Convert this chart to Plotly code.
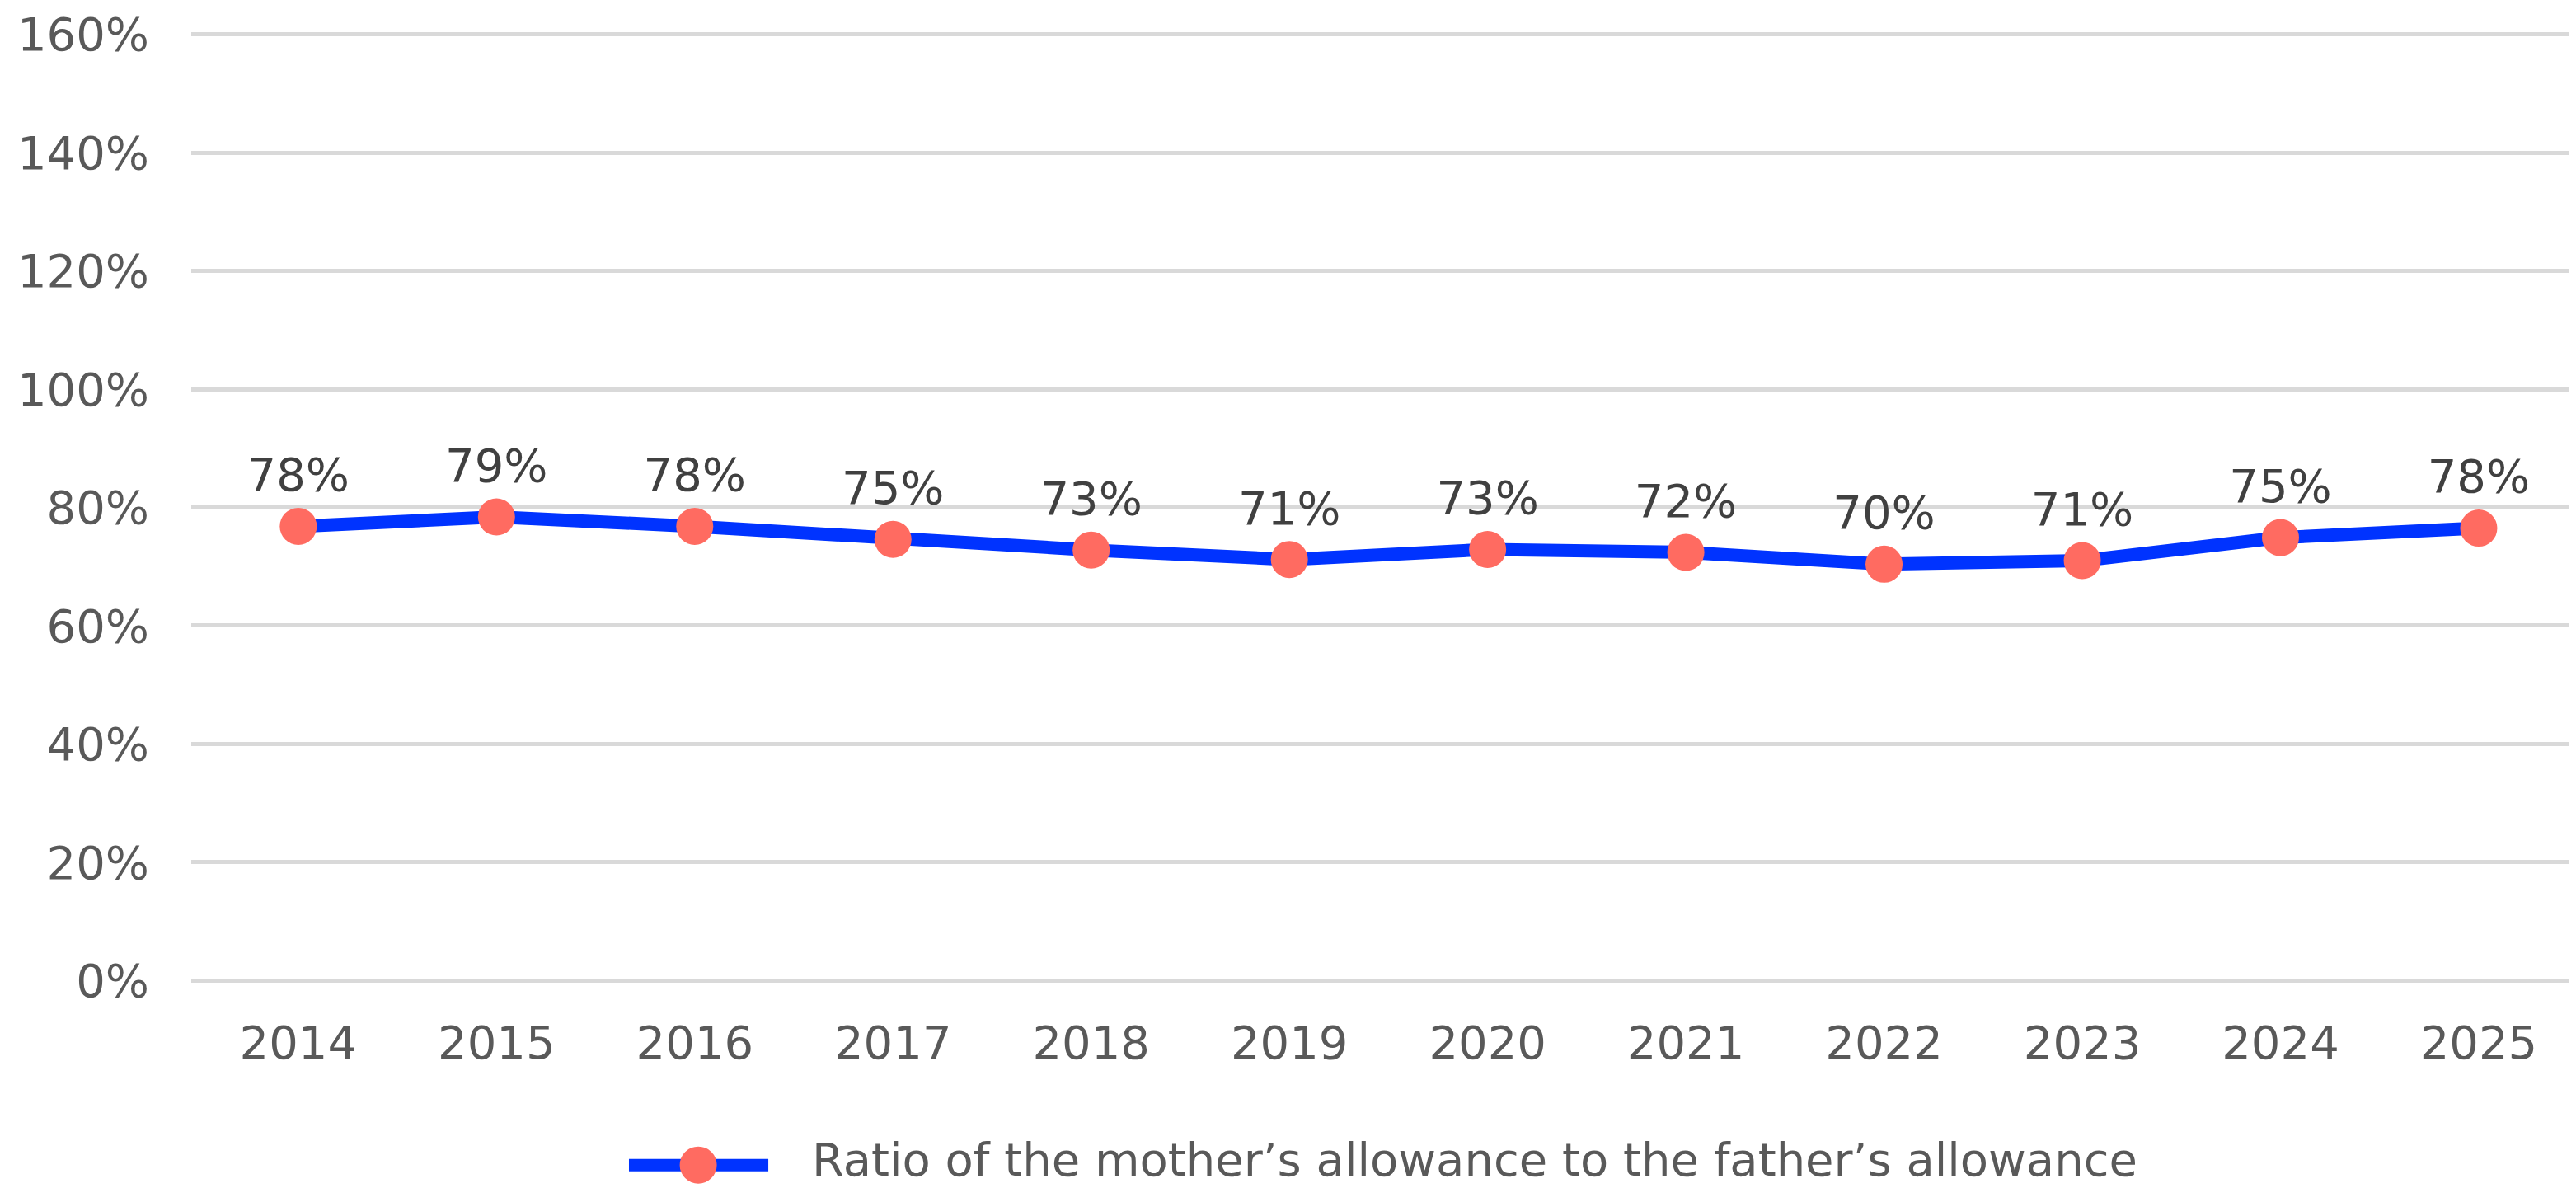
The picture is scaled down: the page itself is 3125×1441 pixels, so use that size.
import plotly.graph_objects as go

# data
years = ["2014", "2015", "2016", "2017", "2018", "2019",
         "2020", "2021", "2022", "2023", "2024", "2025"]
ratio = [76.8, 78.4, 76.8, 74.6, 72.8, 71.2, 72.9, 72.4, 70.4, 71.0, 74.9, 76.5]
ratio_labels = ["78%", "79%", "78%", "75%", "73%", "71%",
                "73%", "72%", "70%", "71%", "75%", "78%"]
y_ticks = [0, 20, 40, 60, 80, 100, 120, 140, 160]
y_tick_text = [f"{v}%" for v in y_ticks]
series_name = "Ratio of the mother\u2019s allowance to the father\u2019s allowance"

LINE_COLOR = "#0033FF"
MARKER_COLOR = "#FF6B61"
FONT = "DejaVu Sans"
FS = 56

fig = go.Figure()

fig.add_trace(
    go.Scatter(
        x=years,
        y=ratio,
        mode="lines+markers+text",
        name=series_name,
        text=ratio_labels,
        textposition="top center",
        textfont=dict(family=FONT, size=FS, color="#404040"),
        line=dict(color=LINE_COLOR, width=16),
        marker=dict(color=MARKER_COLOR, size=45),
        cliponaxis=False,
        showlegend=False,
    )
)

# hand-drawn legend below the plot (long rounded line sample like the original)
leg_y = -0.1906
fig.add_shape(type="path", xref="paper", yref="paper",
              path=f"M 0.1831 {leg_y} L 0.2414 {leg_y}",
              line=dict(color=LINE_COLOR, width=15))
fig.add_shape(type="circle", xref="paper", yref="paper",
              xsizemode="pixel", ysizemode="pixel",
              xanchor=0.2121, yanchor=leg_y,
              x0=-22.5, x1=22.5, y0=-22.5, y1=22.5,
              fillcolor=MARKER_COLOR, line=dict(width=0))
fig.add_annotation(xref="paper", yref="paper", x=0.2590, y=leg_y + 0.006,
                   xanchor="left", yanchor="middle", showarrow=False,
                   text=series_name,
                   font=dict(family=FONT, size=FS, color="#595959"))

fig.update_layout(
    width=3125,
    height=1441,
    margin=dict(l=224, r=1, t=20, b=256),
    plot_bgcolor="white",
    paper_bgcolor="white",
    font=dict(family=FONT, size=FS, color="#595959"),
    xaxis=dict(
        type="category",
        range=[-0.54, 11.52],
        showgrid=False,
        showline=False,
        zeroline=False,
        ticklabelstandoff=34,
        tickfont=dict(size=FS, color="#595959"),
    ),
    yaxis=dict(
        range=[-0.5, 160.5],
        tickvals=y_ticks,
        ticktext=y_tick_text,
        gridcolor="#D9D9D9",
        gridwidth=5,
        zeroline=False,
        showline=False,
        ticklabelstandoff=50,
        ticklabeloverflow="allow",
        tickfont=dict(size=FS, color="#595959"),
    ),
)

fig.write_html("out.html")
